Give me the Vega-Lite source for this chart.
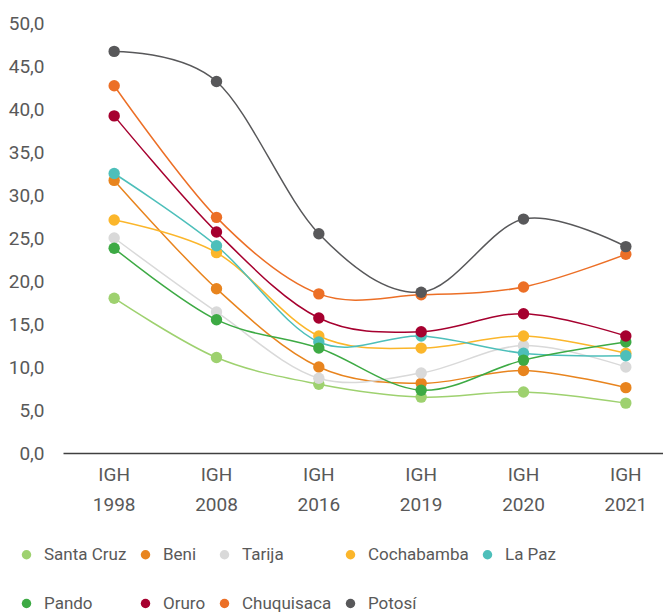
{
  "$schema": "https://vega.github.io/schema/vega-lite/v6.json",
  "width": 614,
  "height": 430,
  "autosize": "none",
  "padding": {"left": 63, "top": 23, "right": 0, "bottom": 162},
  "background": "white",
  "config": {
    "view": {"stroke": null},
    "font": "Roboto",
    "axis": {"labelFont": "Roboto", "labelColor": "#595959", "labelFontSize": 19}
  },
  "data": {
    "values": [
      {"d": "Santa Cruz", "y": "1998", "v": 18.0}, {"d": "Santa Cruz", "y": "2008", "v": 11.1}, {"d": "Santa Cruz", "y": "2016", "v": 8.0}, {"d": "Santa Cruz", "y": "2019", "v": 6.5}, {"d": "Santa Cruz", "y": "2020", "v": 7.1}, {"d": "Santa Cruz", "y": "2021", "v": 5.8},
      {"d": "Beni", "y": "1998", "v": 31.7}, {"d": "Beni", "y": "2008", "v": 19.1}, {"d": "Beni", "y": "2016", "v": 10.0}, {"d": "Beni", "y": "2019", "v": 8.1}, {"d": "Beni", "y": "2020", "v": 9.6}, {"d": "Beni", "y": "2021", "v": 7.6},
      {"d": "Tarija", "y": "1998", "v": 25.0}, {"d": "Tarija", "y": "2008", "v": 16.4}, {"d": "Tarija", "y": "2016", "v": 8.7}, {"d": "Tarija", "y": "2019", "v": 9.3}, {"d": "Tarija", "y": "2020", "v": 12.5}, {"d": "Tarija", "y": "2021", "v": 10.0},
      {"d": "Cochabamba", "y": "1998", "v": 27.1}, {"d": "Cochabamba", "y": "2008", "v": 23.3}, {"d": "Cochabamba", "y": "2016", "v": 13.6}, {"d": "Cochabamba", "y": "2019", "v": 12.2}, {"d": "Cochabamba", "y": "2020", "v": 13.6}, {"d": "Cochabamba", "y": "2021", "v": 11.6},
      {"d": "La Paz", "y": "1998", "v": 32.5}, {"d": "La Paz", "y": "2008", "v": 24.1}, {"d": "La Paz", "y": "2016", "v": 12.9}, {"d": "La Paz", "y": "2019", "v": 13.6}, {"d": "La Paz", "y": "2020", "v": 11.6}, {"d": "La Paz", "y": "2021", "v": 11.3},
      {"d": "Pando", "y": "1998", "v": 23.8}, {"d": "Pando", "y": "2008", "v": 15.5}, {"d": "Pando", "y": "2016", "v": 12.2}, {"d": "Pando", "y": "2019", "v": 7.3}, {"d": "Pando", "y": "2020", "v": 10.8}, {"d": "Pando", "y": "2021", "v": 12.9},
      {"d": "Oruro", "y": "1998", "v": 39.2}, {"d": "Oruro", "y": "2008", "v": 25.7}, {"d": "Oruro", "y": "2016", "v": 15.7}, {"d": "Oruro", "y": "2019", "v": 14.1}, {"d": "Oruro", "y": "2020", "v": 16.2}, {"d": "Oruro", "y": "2021", "v": 13.6},
      {"d": "Chuquisaca", "y": "1998", "v": 42.7}, {"d": "Chuquisaca", "y": "2008", "v": 27.4}, {"d": "Chuquisaca", "y": "2016", "v": 18.5}, {"d": "Chuquisaca", "y": "2019", "v": 18.4}, {"d": "Chuquisaca", "y": "2020", "v": 19.3}, {"d": "Chuquisaca", "y": "2021", "v": 23.1},
      {"d": "Potosí", "y": "1998", "v": 46.7}, {"d": "Potosí", "y": "2008", "v": 43.2}, {"d": "Potosí", "y": "2016", "v": 25.5}, {"d": "Potosí", "y": "2019", "v": 18.7}, {"d": "Potosí", "y": "2020", "v": 27.2}, {"d": "Potosí", "y": "2021", "v": 24.0}
    ]
  },
  "encoding": {
    "x": {
      "field": "y", "type": "ordinal", "title": null,
      "scale": {"type": "band", "paddingInner": 0, "paddingOuter": 0},
      "axis": {"labelAngle": 0, "ticks": false, "domainColor": "#404040", "domainWidth": 1.5, "labelPadding": 12, "labelLineHeight": 30, "labelExpr": "['IGH', datum.label]", "labelBaseline": "top"}
    },
    "y": {
      "field": "v", "type": "quantitative", "title": null,
      "scale": {"domain": [0, 50], "nice": false},
      "axis": {"values": [0, 5, 10, 15, 20, 25, 30, 35, 40, 45, 50], "grid": false, "domain": false, "ticks": false, "labelPadding": 19, "labelExpr": "replace(format(datum.value, '.1f'), '.', ',')"}
    },
    "color": {
      "field": "d", "type": "nominal", "title": null,
      "scale": {
        "domain": ["Santa Cruz", "Beni", "Tarija", "Cochabamba", "La Paz", "Pando", "Oruro", "Chuquisaca", "Potosí"],
        "range": ["#9ED16F", "#E8841E", "#D9D9D9", "#FBB62B", "#4DBFBA", "#3DAA44", "#A6002F", "#EC6F26", "#58585A"]
      },
      "legend": {
        "orient": "none", "legendX": -45, "legendY": 523, "direction": "horizontal", "columns": 5,
        "symbolType": "circle", "symbolSize": 90, "symbolStrokeWidth": 0,
        "labelFont": "Roboto", "labelFontSize": 17, "labelColor": "#595959",
        "rowPadding": 31, "columnPadding": 10, "labelOffset": 9, "symbolOffset": 0
      }
    }
  },
  "layer": [
    {"mark": {"type": "line", "interpolate": "cardinal", "strokeWidth": 1.5}},
    {"mark": {"type": "circle", "size": 130, "opacity": 1}}
  ]
}
